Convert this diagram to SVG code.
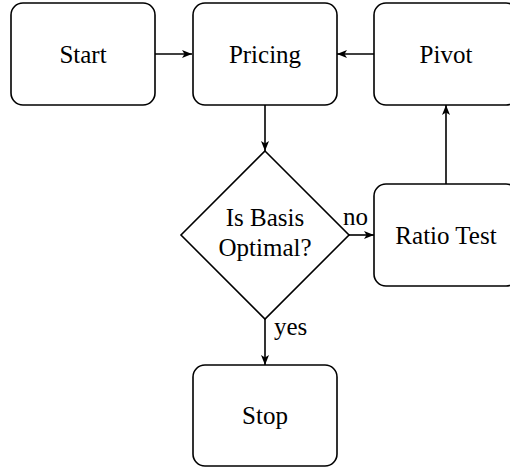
<svg xmlns="http://www.w3.org/2000/svg" width="510" height="467" viewBox="0 0 510 467">
<style>
.box{fill:#fff;stroke:#000;stroke-width:1.6}
.edge{fill:none;stroke:#000;stroke-width:1.6}
text{font-family:'Liberation Serif','Times New Roman',serif;font-size:25px;fill:#000}
.t{text-anchor:middle}
</style>
<defs>
<marker id="arr" viewBox="0 0 10 8" refX="10" refY="4" markerWidth="10" markerHeight="8" markerUnits="userSpaceOnUse" orient="auto">
<path d="M0,0 L10,4 L0,8 L2.5,4 Z" fill="#000"/>
</marker>
</defs>
<rect width="510" height="467" fill="#fff"/>
<g id="edges">
<path class="edge" d="M155,54 H192" marker-end="url(#arr)"/>
<path class="edge" d="M374,54 H337" marker-end="url(#arr)"/>
<path class="edge" d="M265,105 V151" marker-end="url(#arr)"/>
<path class="edge" d="M349,235 H374" marker-end="url(#arr)"/>
<path class="edge" d="M446,184 V105" marker-end="url(#arr)"/>
<path class="edge" d="M265,319 V365" marker-end="url(#arr)"/>
<text x="343" y="225">no</text>
<text x="274" y="335">yes</text>
</g>
<g id="start">
<rect class="box" x="11" y="3" width="144" height="102" rx="12"/>
<text class="t" x="83" y="63">Start</text>
</g>
<g id="pricing">
<rect class="box" x="193" y="3" width="144" height="102" rx="12"/>
<text class="t" x="265" y="63">Pricing</text>
</g>
<g id="pivot">
<rect class="box" x="374" y="3" width="144" height="102" rx="12"/>
<text class="t" x="446" y="63">Pivot</text>
</g>
<g id="decision">
<path class="box" d="M265,151 L349,235 L265,319 L181,235 Z"/>
<text class="t" x="265" y="226">Is Basis</text>
<text class="t" x="265" y="256">Optimal?</text>
</g>
<g id="ratio">
<rect class="box" x="374" y="184" width="144" height="102" rx="12"/>
<text class="t" x="446" y="244">Ratio Test</text>
</g>
<g id="stop">
<rect class="box" x="193" y="365" width="144" height="101" rx="12"/>
<text class="t" x="265" y="424">Stop</text>
</g>
</svg>
